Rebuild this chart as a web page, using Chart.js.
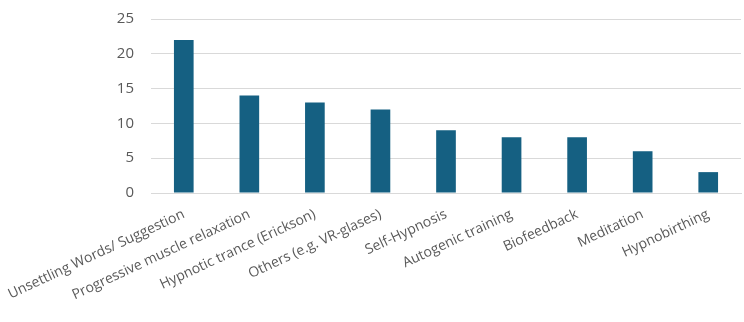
<!DOCTYPE html>
<html lang="en">
<head>
  <meta charset="UTF-8" />
  <script src="https://cdn.jsdelivr.net/npm/chart.js"></script>
  <style>
    html, body { margin: 0; padding: 0; background: #fff; }
    #wrap { width: 744px; height: 322px; }
  </style>
</head>
<body>
  <div id="wrap"><canvas id="grafico"></canvas></div>

<script>
  // categorias e valores
  const categorias = [
    "Unsettling Words/ Suggestion",
    "Progressive muscle relaxation",
    "Hypnotic trance (Erickson)",
    "Others (e.g. VR-glases)",
    "Self-Hypnosis",
    "Autogenic training",
    "Biofeedback",
    "Meditation",
    "Hypnobirthing"
  ];
  const valores = [22, 14, 13, 12, 9, 8, 8, 6, 3];
  const ticksY = [0, 5, 10, 15, 20, 25];

  const corBarra = "#156082";
  const corTexto = "#595959";
  const corGrade = "#d9d9d9";
  const fonte = "'Open Sans', sans-serif";

  const config = {
    type: "bar",
    data: {
      labels: categorias,
      datasets: [{
        data: valores,
        backgroundColor: corBarra,
        barPercentage: 0.3,
        categoryPercentage: 1.0
      }]
    },
    options: {
      responsive: false,
      animation: false,
      layout: { padding: { top: 19, right: 3, left: 0, bottom: 0 } },
      plugins: {
        legend: { display: false },
        tooltip: { enabled: false }
      },
      scales: {
        x: {
          grid: { display: false, drawTicks: false },
          border: { display: true, color: corGrade, width: 1 },
          ticks: {
            color: corTexto,
            font: { family: fonte, size: 14 },
            minRotation: 25,
            maxRotation: 25,
            padding: 13,
            autoSkip: false
          },
          afterFit: function (scale) {
            scale.height = 129;
            // deixa o rótulo longo sair pela esquerda, como no original
            scale.paddingLeft = 0;
            scale.paddingRight = 0;
          }
        },
        y: {
          min: 0,
          max: 25,
          afterBuildTicks: function (scale) {
            scale.ticks = ticksY.map(function (v) { return { value: v }; });
          },
          grid: { color: corGrade, lineWidth: 1, drawTicks: false },
          border: { display: false },
          ticks: {
            color: corTexto,
            font: { family: fonte, size: 15 },
            padding: 17
          },
          afterFit: function (scale) {
            scale.width = 151;
            scale.paddingTop = 0;
            scale.paddingBottom = 0;
          }
        }
      }
    }
  };

  const canvas = document.getElementById("grafico");
  canvas.width = 744;
  canvas.height = 322;
  new Chart(canvas, config);
</script>
</body>
</html>
